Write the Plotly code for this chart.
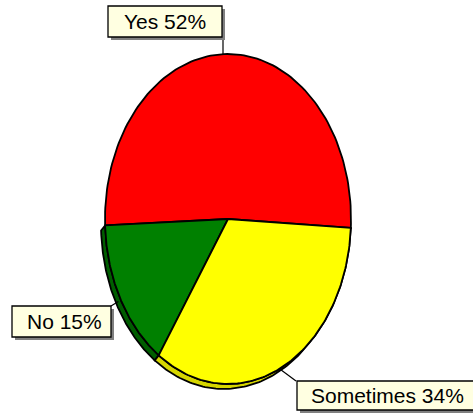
import numpy as np
import plotly.graph_objects as go

# ---- data ----
categories = ["Yes", "No", "Sometimes"]          # counter-clockwise drawing order
values = [52, 15, 34]
label_texts = ["Yes 52%", "No 15%", "Sometimes 34%"]
colors = ["#FF0000", "#008000", "#FFFF00"]
side_colors = [None, "#005E00", "#D6D600"]

W, H = 473, 414
cx, cy, rx, ry = 228, 219, 123, 165
start_deg = -3.1
dx_side, dy_side = -4, 5

total = float(sum(values))
fig = go.Figure()


def arc(a0, a1, ox=0.0, oy=0.0, n=120):
    t = np.radians(np.linspace(a0, a1, n))
    return cx + ox + rx * np.cos(t), cy + oy - ry * np.sin(t)


# angles
angles = []
a = start_deg
for v in values:
    span = v / total * 360.0
    angles.append((a, a + span))
    a += span

# side (depth) bands
for (a0, a1), sc in zip(angles, side_colors):
    if sc is None:
        continue
    x1, y1 = arc(a0, a1)
    x2, y2 = arc(a1, a0, dx_side, dy_side)
    xs = np.concatenate([x1, x2, x1[:1]])
    ys = np.concatenate([y1, y2, y1[:1]])
    fig.add_trace(go.Scatter(x=xs, y=ys, mode="lines", fill="toself",
                             fillcolor=sc, line=dict(color="black", width=1.8),
                             hoverinfo="skip", showlegend=False))

# top faces
for (a0, a1), c, name in zip(angles, colors, categories):
    x, y = arc(a0, a1)
    xs = np.concatenate([[cx], x, [cx]])
    ys = np.concatenate([[cy], y, [cy]])
    fig.add_trace(go.Scatter(x=xs, y=ys, mode="lines", fill="toself",
                             fillcolor=c, line=dict(color="black", width=1.8),
                             name=name, showlegend=False))

# label boxes (layout positions)
boxes = {
    "Yes": (108, 6, 222, 37),
    "No": (12, 306, 111, 337),
    "Sometimes": (297, 381, 478, 410),
}
anchors = {
    "Yes": (223, 37),
    "No": (111, 306),
    "Sometimes": (296, 381),
}
text_x = {"Yes": 165, "No": 64, "Sometimes": 387}
shapes = []
for (a0, a1), name, txt in zip(angles, categories, label_texts):
    mid = np.radians((a0 + a1) / 2)
    px, py = cx + rx * np.cos(mid), cy - ry * np.sin(mid)
    ax, ay = anchors[name]
    if name == "Yes":
        # vertical leader down to the rim
        px = ax
        py = cy - ry * np.sqrt(max(0.0, 1 - ((ax - cx) / rx) ** 2))
    else:
        px += dx_side * 0.5
        py += dy_side * 0.5
    shapes.append(dict(type="line", x0=px, y0=py, x1=ax, y1=ay,
                       line=dict(color="black", width=1.2), layer="above"))
    x0, y0, x1, y1 = boxes[name]
    shapes.append(dict(type="rect", x0=x0 + 3, y0=y0 + 3, x1=x1 + 3, y1=y1 + 3,
                       fillcolor="#808080", line=dict(width=0), layer="above"))
    shapes.append(dict(type="rect", x0=x0, y0=y0, x1=x1, y1=y1,
                       fillcolor="#FFFFE1", line=dict(color="black", width=1.3),
                       layer="above"))
    fig.add_annotation(x=text_x[name], y=(y0 + y1) / 2, text=txt, showarrow=False,
                       font=dict(family="Liberation Sans, Arial, sans-serif",
                                 size=21, color="black"),
                       xanchor="center", yanchor="middle")

fig.update_layout(
    width=W, height=H,
    margin=dict(l=0, r=0, t=0, b=0),
    paper_bgcolor="white", plot_bgcolor="white",
    xaxis=dict(range=[0, W], visible=False, fixedrange=True),
    yaxis=dict(range=[H, 0], visible=False, fixedrange=True),
    shapes=shapes,
    showlegend=False,
)
fig.write_html("out.html",
               config={"displayModeBar": False},
               post_script="document.body.style.margin='0px';"
                           "document.body.style.overflow='hidden';")
